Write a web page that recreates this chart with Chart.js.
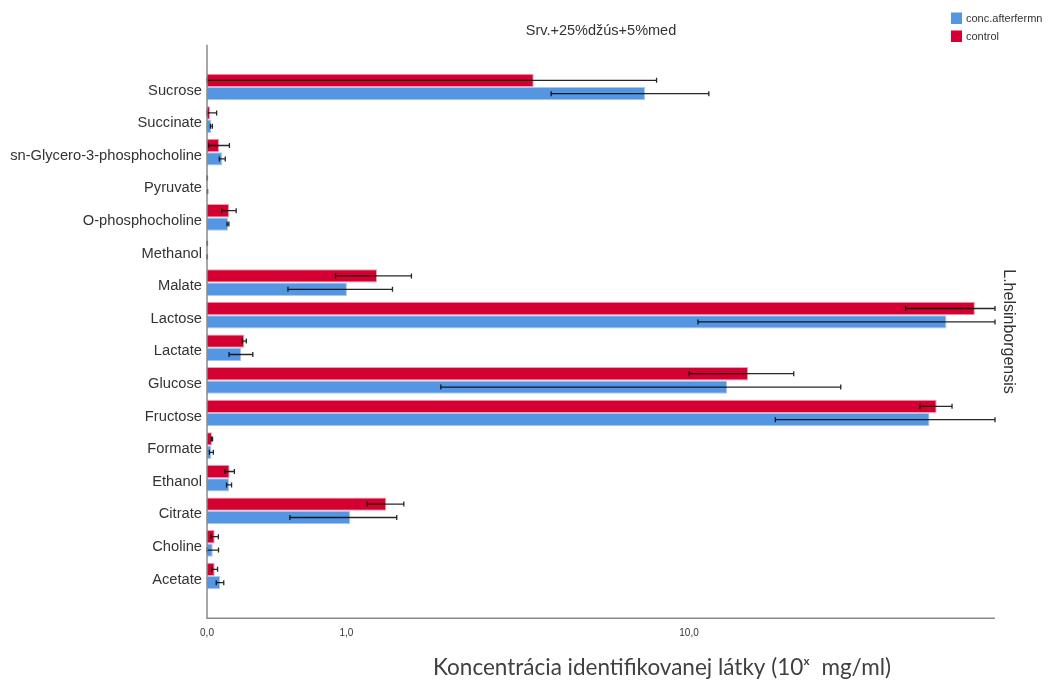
<!DOCTYPE html>
<html>
<head>
<meta charset="utf-8">
<script src="https://cdn.jsdelivr.net/npm/chart.js@4/dist/chart.umd.min.js"></script>
<style>
  html, body { margin: 0; padding: 0; background: #fff; }
  #chart { display: block; }
</style>
</head>
<body>
<canvas id="chart" width="1052" height="682"></canvas>
<script>
const categories = [
  'Sucrose', 'Succinate', 'sn-Glycero-3-phosphocholine', 'Pyruvate',
  'O-phosphocholine', 'Methanol', 'Malate', 'Lactose', 'Lactate', 'Glucose',
  'Fructose', 'Formate', 'Ethanol', 'Citrate', 'Choline', 'Acetate'
];

const controlValues = [4.08, 0.015, 0.062, 0.001, 0.116, 0.001, 1.33, 44.6, 0.204, 13.76, 36.7, 0.025, 0.119, 1.44, 0.039, 0.039];
const controlErrors = [4.28, 0.034, 0.056, 0.001, 0.040, 0.001, 0.435, 13.3, 0.012, 3.76, 3.0, 0.003, 0.027, 0.222, 0.019, 0.015];

const afterValues = [7.84, 0.022, 0.079, 0.002, 0.110, 0.001, 1.006, 38.6, 0.186, 12.3, 35.4, 0.022, 0.116, 1.04, 0.029, 0.067];
const afterErrors = [3.3, 0.005, 0.016, 0.001, 0.005, 0.001, 0.51, 28.1, 0.07, 10.1, 19.5, 0.01, 0.014, 0.53, 0.03, 0.02];

const xTickValues = [0, 1, 10];
const xTickLabels = ['0,0', '1,0', '10,0'];
const xMaxValue = 49.4;

const FONT = "'Liberation Sans', Arial, sans-serif";
const RED = '#d50032';
const BLUE = '#5596e2';

// x axis runs on log10(1 + value)
const toAxis = v => Math.log10(1 + v);

const errorBars = {
  id: 'errorBars',
  afterDatasetsDraw(chart) {
    const ctx = chart.ctx;
    const xs = chart.scales.x;
    ctx.save();
    ctx.strokeStyle = 'rgba(0,0,0,0.85)';
    ctx.lineWidth = 1.3;
    chart.data.datasets.forEach((ds, di) => {
      chart.getDatasetMeta(di).data.forEach((bar, i) => {
        const v = ds.rawValues[i];
        const e = ds.errors[i];
        const x0 = xs.getPixelForValue(toAxis(Math.max(0, v - e)));
        const x1 = xs.getPixelForValue(Math.min(xs.max, toAxis(v + e)));
        const y = bar.y;
        ctx.beginPath();
        ctx.moveTo(x0, y);
        ctx.lineTo(x1, y);
        ctx.moveTo(x0, y - 2.5);
        ctx.lineTo(x0, y + 2.5);
        ctx.moveTo(x1, y - 2.5);
        ctx.lineTo(x1, y + 2.5);
        ctx.stroke();
      });
    });
    ctx.restore();
  }
};

const panelText = {
  id: 'panelText',
  afterDraw(chart) {
    const ctx = chart.ctx;
    const area = chart.chartArea;
    const frameTop = area.top - 26;
    const frameBottom = area.bottom + 26;
    ctx.save();

    // axis frame
    ctx.strokeStyle = '#8a8a8a';
    ctx.lineWidth = 1.5;
    ctx.beginPath();
    ctx.moveTo(area.left, frameTop);
    ctx.lineTo(area.left, frameBottom);
    ctx.lineTo(area.right, frameBottom);
    ctx.stroke();

    // title
    ctx.fillStyle = '#333';
    ctx.font = '14.5px ' + FONT;
    ctx.textAlign = 'center';
    ctx.textBaseline = 'middle';
    ctx.fillText('Srv.+25%džús+5%med', (area.left + area.right) / 2, 31);

    // panel label on the right
    ctx.save();
    ctx.translate(1008, (frameTop + frameBottom) / 2);
    ctx.rotate(Math.PI / 2);
    ctx.font = '16px ' + FONT;
    ctx.fillText('L.helsinborgensis', 0, 0);
    ctx.restore();

    // x axis title
    ctx.fillStyle = '#404040';
    ctx.font = '22.5px Lato, sans-serif';
    ctx.fillText('Koncentrácia identifikovanej látky (10ˣ  mg/ml)', 662, 668);

    // legend, listed bottom dataset first
    ctx.font = '11px ' + FONT;
    ctx.textAlign = 'left';
    const items = chart.data.datasets.slice().reverse();
    items.forEach((ds, i) => {
      const y = 12.5 + i * 18;
      ctx.fillStyle = ds.backgroundColor;
      ctx.fillRect(951, y, 11, 11.5);
      ctx.fillStyle = '#333';
      ctx.fillText(ds.label, 966, y + 6);
    });

    ctx.restore();
  }
};

new Chart(document.getElementById('chart'), {
  type: 'bar',
  data: {
    labels: categories,
    datasets: [
      {
        label: 'control',
        data: controlValues.map(toAxis),
        rawValues: controlValues,
        errors: controlErrors,
        backgroundColor: RED,
        borderColor: '#ec9fb2',
        borderWidth: 1
      },
      {
        label: 'conc.afterfermn',
        data: afterValues.map(toAxis),
        rawValues: afterValues,
        errors: afterErrors,
        backgroundColor: BLUE,
        borderColor: '#a9c9f1',
        borderWidth: 1
      }
    ]
  },
  options: {
    indexAxis: 'y',
    responsive: false,
    animation: false,
    events: [],
    layout: { padding: { top: 70.7, right: 57, left: 0, bottom: 0 } },
    datasets: {
      bar: { categoryPercentage: 0.82, barPercentage: 1.0 }
    },
    plugins: {
      legend: { display: false },
      title: { display: false },
      tooltip: { enabled: false }
    },
    scales: {
      x: {
        type: 'linear',
        min: 0,
        max: toAxis(xMaxValue),
        grid: { display: false, drawTicks: false },
        border: { display: false },
        afterBuildTicks: scale => {
          scale.ticks = xTickValues.map(v => ({ value: toAxis(v) }));
        },
        afterFit: scale => { scale.height = 89.7; },
        ticks: {
          padding: 35,
          color: '#333',
          font: { family: FONT, size: 10 },
          callback: (value, index) => xTickLabels[index]
        }
      },
      y: {
        grid: { display: false, drawTicks: false },
        border: { display: false },
        afterFit: scale => { scale.width = 207; },
        ticks: {
          padding: 5,
          labelOffset: 3.5,
          color: '#333',
          font: { family: FONT, size: 14.7 }
        }
      }
    }
  },
  plugins: [errorBars, panelText]
});
</script>
</body>
</html>
